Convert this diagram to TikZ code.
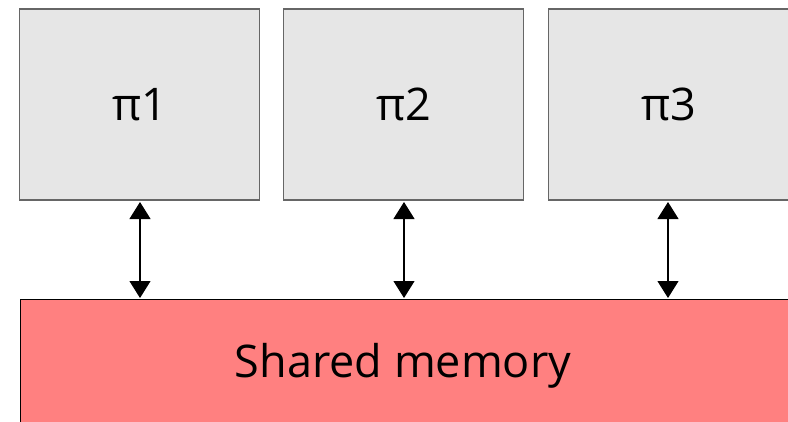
\documentclass[tikz,border=0pt]{standalone}
\usepackage{fontspec}
\setmainfont{Open Sans}
\usetikzlibrary{arrows.meta}
\definecolor{procfill}{HTML}{E6E6E6}
\definecolor{procline}{HTML}{666666}
\definecolor{memfill}{HTML}{FF8080}
\tikzset{
  labelfont/.style={font=\fontsize{45}{54}\selectfont},
  procbox/.style={draw=procline, line width=1.2pt, fill=procfill, minimum width=240pt, minimum height=191pt, inner sep=0pt, labelfont},
  membox/.style={draw=black, line width=1.3pt, fill=memfill, inner sep=0pt},
  link/.style={line width=1.2pt, {Triangle[width=21pt,length=17pt]}-{Triangle[width=21pt,length=17pt]}}
}
\begin{document}
\begin{tikzpicture}[x=1pt,y=-1pt]
\useasboundingbox (0,0) rectangle (788,421);
\node[procbox] (p1) at (139.5,104.5) {\raisebox{-2pt}{π1}};
\node[procbox] (p2) at (403.5,104.5) {\raisebox{-2pt}{π2}};
\node[procbox, minimum width=260pt, anchor=west] (p3) at (548,104.5) {\hspace*{-20pt}\raisebox{-2pt}{π3}};
\node[membox, minimum width=768pt, minimum height=150pt, anchor=north west] (mem) at (19.5,299) {};
\node[labelfont, anchor=base] (memlabel) at (403,377) {Shared memory};
\coordinate (a1t) at (140,202);
\coordinate (a1b) at (140,298);
\coordinate (a2t) at (404,202);
\coordinate (a2b) at (404,298);
\coordinate (a3t) at (668,202);
\coordinate (a3b) at (668,298);
\draw[link] (a1t) -- (a1b);
\draw[link] (a2t) -- (a2b);
\draw[link] (a3t) -- (a3b);
\end{tikzpicture}
\end{document}
